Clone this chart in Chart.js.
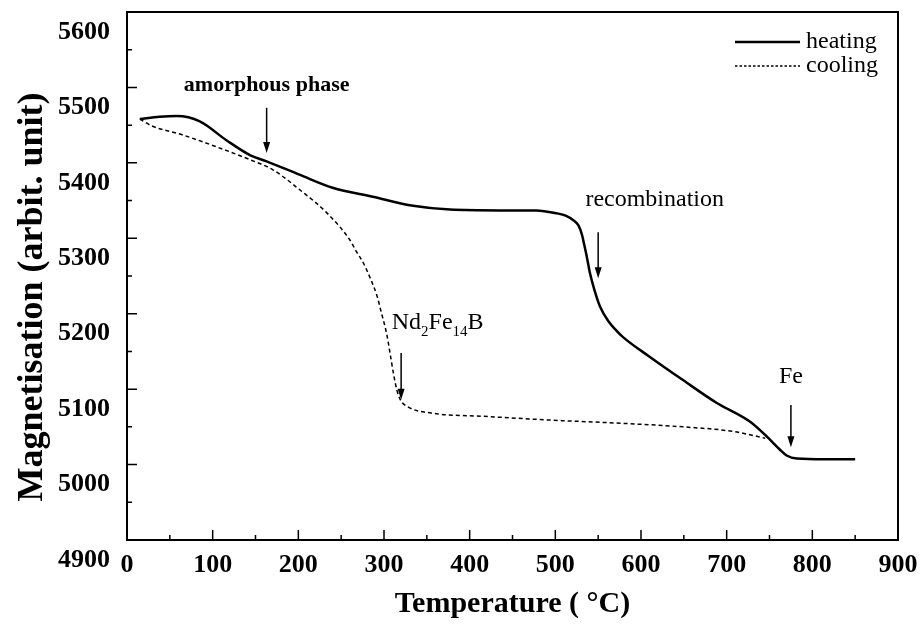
<!DOCTYPE html>
<html>
<head>
<meta charset="utf-8">
<script src="https://cdn.jsdelivr.net/npm/chart.js@4.4.1/dist/chart.umd.min.js"></script>
<style>
html,body{margin:0;padding:0;background:#fff;}
#wrap{width:923px;height:624px;}
</style>
</head>
<body>
<div id="wrap"><canvas id="c" width="923" height="624"></canvas></div>
<script>
// ---- data ----
const heatT = [15, 38, 58, 85, 116, 144, 163, 202, 240, 287, 334, 377, 435, 478, 502, 512, 521, 527, 531, 534, 537, 540, 545, 552, 562, 571, 579, 610, 649, 688, 727, 747, 762, 770, 782, 815, 850];
const heatM = [5458, 5461, 5462, 5455, 5430, 5410, 5402, 5384, 5367, 5355, 5343, 5338, 5337, 5337, 5333, 5330, 5324, 5317, 5305, 5290, 5274, 5256, 5234, 5210, 5190, 5178, 5169, 5143, 5112, 5082, 5057, 5037, 5020, 5012, 5008, 5007, 5007];
const coolT = [15, 29, 65, 105, 144, 170, 202, 233, 260, 268, 276, 284, 292, 297, 303, 307, 311, 315, 319, 327, 357, 416, 494, 572, 649, 707, 745];
const coolM = [5458, 5449, 5437, 5421, 5404, 5391, 5364, 5334, 5298, 5282, 5267, 5247, 5223, 5201, 5174, 5148, 5121, 5099, 5086, 5077, 5068, 5064, 5059, 5055, 5050, 5044, 5035];
const seriesNames = ["heating", "cooling"];
const xTicks = [0, 100, 200, 300, 400, 500, 600, 700, 800, 900];
const yTicks = [4900, 5000, 5100, 5200, 5300, 5400, 5500, 5600];
const xTitle = "Temperature ( \u00B0C)";
const yTitle = "Magnetisation (arbit. unit)";
// annotations: text, text position [T, M], arrow [T, topM, tipM]
const annoText = ["amorphous phase", "recombination", "Nd2Fe14B", "Fe"];
const annoTextPos = [[163, 5503], [616, 5351], [309, 5188], [775, 5116]];
const annoArrow = [[163, 5473, 5413], [550, 5308, 5247], [320, 5148, 5086], [775, 5079, 5023]];

const SERIF = '"Liberation Serif", "Times New Roman", serif';

const decor = {
  id: 'decor',
  afterDraw(chart) {
    const ctx = chart.ctx, a = chart.chartArea;
    const xs = chart.scales.x, ys = chart.scales.y;
    ctx.save();
    ctx.strokeStyle = '#000';
    ctx.fillStyle = '#000';
    ctx.lineWidth = 2;
    ctx.strokeRect(a.left, a.top, a.right - a.left, a.bottom - a.top);
    // inward ticks
    ctx.lineWidth = 1.5;
    ctx.beginPath();
    for (let v = xs.min; v <= xs.max; v += 50) {
      const p = xs.getPixelForValue(v);
      const len = (v % 100 === 0) ? 10 : 5;
      ctx.moveTo(p, a.bottom); ctx.lineTo(p, a.bottom - len);
    }
    for (let v = ys.min; v <= ys.max; v += 50) {
      const p = ys.getPixelForValue(v);
      const len = (v % 100 === 0) ? 10 : 5;
      ctx.moveTo(a.left, p); ctx.lineTo(a.left + len, p);
    }
    ctx.stroke();

    // y axis title
    ctx.save();
    ctx.translate(33, (a.top + a.bottom) / 2 + 21);
    ctx.rotate(-Math.PI / 2);
    ctx.font = 'bold 36px ' + SERIF;
    ctx.textAlign = 'center';
    ctx.textBaseline = 'middle';
    ctx.fillText(yTitle, 0, 0);
    ctx.restore();

    // annotations
    ctx.textBaseline = 'middle';
    annoText.forEach((t, i) => {
      const tx = xs.getPixelForValue(annoTextPos[i][0]);
      const ty = ys.getPixelForValue(annoTextPos[i][1]);
      if (i === 0) {
        ctx.font = 'bold 22px ' + SERIF;
        ctx.textAlign = 'center';
        ctx.fillText(t, tx, ty);
      } else if (i === 2) {
        const parts = [["Nd", 0], ["2", 1], ["Fe", 0], ["14", 1], ["B", 0]];
        let x = tx;
        ctx.textAlign = 'left';
        parts.forEach(([s, sub]) => {
          ctx.font = (sub ? '15px ' : '24px ') + SERIF;
          ctx.fillText(s, x, ty + (sub ? 9 : 0));
          x += ctx.measureText(s).width;
        });
      } else {
        ctx.font = '24px ' + SERIF;
        ctx.textAlign = 'center';
        ctx.fillText(t, tx, ty);
      }
      const ax = xs.getPixelForValue(annoArrow[i][0]);
      const ay0 = ys.getPixelForValue(annoArrow[i][1]);
      const ay1 = ys.getPixelForValue(annoArrow[i][2]);
      ctx.lineWidth = 1.5;
      ctx.beginPath();
      ctx.moveTo(ax, ay0); ctx.lineTo(ax, ay1 - 6);
      ctx.stroke();
      ctx.beginPath();
      ctx.moveTo(ax, ay1); ctx.lineTo(ax - 3.5, ay1 - 11); ctx.lineTo(ax + 3.5, ay1 - 11); ctx.closePath();
      ctx.fill();
    });

    // legend (top right inside plot)
    const lx0 = a.right - 163, lx1 = a.right - 98;
    const ly = [a.top + 30, a.top + 54];
    chart.data.datasets.forEach((ds, i) => {
      ctx.beginPath();
      ctx.lineWidth = ds.borderWidth;
      ctx.setLineDash(i === 0 ? [] : [2.5, 2]);
      ctx.moveTo(lx0, ly[i]); ctx.lineTo(lx1, ly[i]);
      ctx.stroke();
      ctx.setLineDash([]);
      ctx.font = '24px ' + SERIF;
      ctx.textAlign = 'left';
      ctx.fillText(ds.label, lx1 + 6, ly[i]);
    });
    ctx.restore();
  }
};

new Chart(document.getElementById('c'), {
  type: 'scatter',
  data: {
    datasets: [
      {
        label: seriesNames[0],
        data: heatT.map((t, i) => ({x: t, y: heatM[i]})),
        showLine: true, borderColor: '#000', borderWidth: 2.5,
        pointRadius: 0, cubicInterpolationMode: 'monotone'
      },
      {
        label: seriesNames[1],
        data: coolT.map((t, i) => ({x: t, y: coolM[i]})),
        showLine: true, borderColor: '#000', borderWidth: 1.5, borderDash: [4, 3],
        pointRadius: 0, cubicInterpolationMode: 'monotone'
      }
    ]
  },
  options: {
    responsive: false,
    animation: false,
    layout: {padding: {left: 0, top: 12, right: 25, bottom: 0}},
    plugins: {legend: {display: false}, tooltip: {enabled: false}},
    scales: {
      x: {
        type: 'linear', min: 0, max: 900,
        afterBuildTicks: s => { s.ticks = xTicks.map(v => ({value: v})); },
        afterFit: s => { s.height = 84; s.paddingLeft = 0; s.paddingRight = 0; },
        grid: {display: false, drawTicks: false},
        border: {display: false},
        ticks: {color: '#000', font: {family: SERIF, size: 26, weight: 'bold'}, padding: 10, maxRotation: 0, autoSkip: false, callback: v => String(v)},
        title: {display: true, text: xTitle, color: '#000', font: {family: SERIF, size: 30, weight: 'bold'}, padding: {top: 0, bottom: 2}}
      },
      y: {
        type: 'linear', min: 4900, max: 5600,
        afterBuildTicks: s => { s.ticks = yTicks.map(v => ({value: v})); },
        afterFit: s => { s.width = 127; s.paddingTop = 0; s.paddingBottom = 0; },
        grid: {display: false, drawTicks: false},
        border: {display: false},
        ticks: {color: '#000', font: {family: SERIF, size: 26, weight: 'bold'}, padding: 17, labelOffset: 20, autoSkip: false, callback: v => String(v)},
        title: {display: false}
      }
    }
  },
  plugins: [decor]
});
</script>
</body>
</html>
